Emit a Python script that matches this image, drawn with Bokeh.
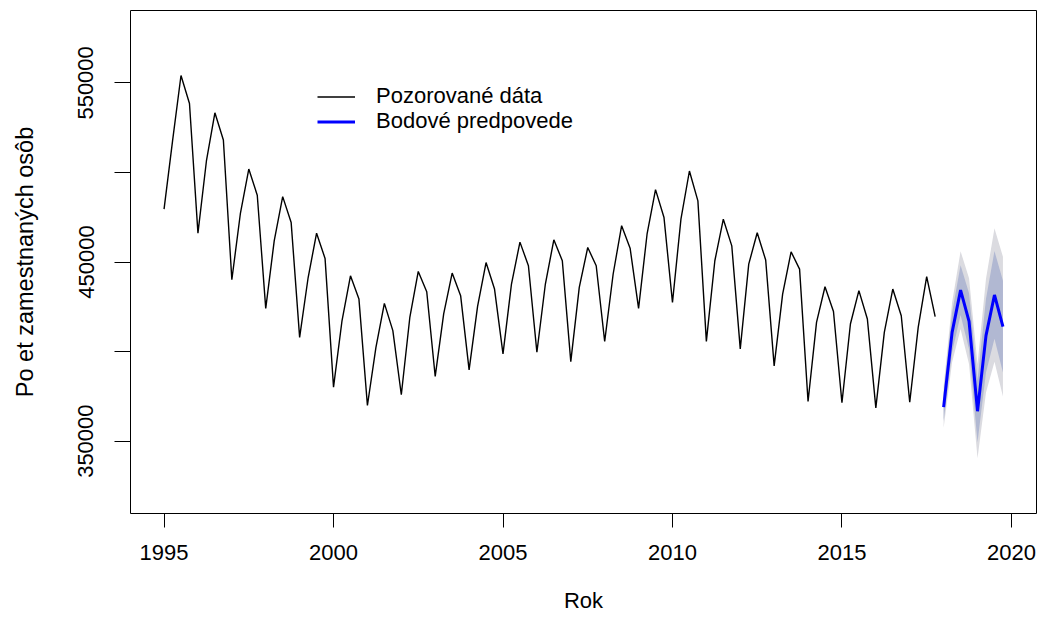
import numpy as np
from bokeh.plotting import figure
from bokeh.models import Range1d, FixedTicker, Legend, LegendItem
from bokeh.embed import file_html
from bokeh.resources import INLINE

# ---- data ----
start_year = 1995.0
observed = [
    479500, 517500, 554100, 538500,
    466100, 506400, 533300, 518100,
    440100, 476800, 501900, 487300,
    424100, 461800, 486500, 472000,
    407900, 441200, 466100, 452000,
    380100, 417200, 442300, 429300,
    369900, 402200, 426900, 411700,
    375900, 418900, 444700, 433400,
    386100, 421000, 443800, 431200,
    389800, 425200, 449700, 434900,
    398700, 437700, 461100, 447900,
    399600, 437700, 462400, 450700,
    394400, 435800, 458100, 447900,
    405600, 443300, 470300, 457700,
    424100, 465500, 490400, 474800,
    427400, 473900, 500800, 484100,
    405700, 450700, 473900, 459000,
    401500, 448800, 466300, 451100,
    392000, 432100, 455700, 446000,
    372100, 416300, 436200, 422400,
    371400, 415400, 434000, 418200,
    368600, 410700, 434900, 420000,
    371700, 413500, 441800, 419500,
]
forecast_start = 2018.0
forecast = [369000, 410700, 434300, 416900, 366700, 408900, 431600, 413900]
hi80 = [376800, 421800, 448200, 432500, 384000, 429500, 456100, 439500]
lo80 = [361200, 399600, 420400, 401300, 349400, 388300, 407100, 388300]
hi95 = [380700, 427400, 456000, 440900, 392900, 440600, 468900, 452900]
lo95 = [357300, 394000, 412600, 392900, 340500, 377200, 394300, 374900]

x_ticks = [1995, 2000, 2005, 2010, 2015, 2020]
y_ticks = [350000, 400000, 450000, 500000, 550000]
y_tick_labels = ["350000", "", "450000", "", "550000"]
legend_labels = ["Pozorované dáta", "Bodové predpovede"]
x_title = "Rok"
y_title = "Po et zamestnaných osôb"

t_obs = start_year + np.arange(len(observed)) / 4.0
t_fc = forecast_start + np.arange(len(forecast)) / 4.0

FONT = "Liberation Sans"
FS = "22px"

p = figure(width=1047, height=624,
           x_range=Range1d(1994.01, 2020.74),
           y_range=Range1d(309600, 590400),
           output_backend="svg", toolbar_location=None,
           min_border_left=130, min_border_right=11,
           min_border_top=10, min_border_bottom=111)
p.background_fill_color = "white"
p.border_fill_color = "white"
p.outline_line_color = "black"
p.outline_line_width = 1
p.xgrid.visible = False
p.ygrid.visible = False

# prediction bands
p.varea(x=t_fc, y1=lo95, y2=hi95, fill_color="#DBDBE0", fill_alpha=1.0)
p.varea(x=t_fc, y1=lo80, y2=hi80, fill_color="#B1B8D2", fill_alpha=1.0)

r_obs = p.line(t_obs, observed, line_color="black", line_width=1.4)
r_fc = p.line(t_fc, forecast, line_color="#0000FF", line_width=3)

# axes
xa = p.xaxis[0]
xa.ticker = FixedTicker(ticks=x_ticks)
xa.minor_tick_line_color = None
xa.major_tick_in = 0
xa.major_tick_out = 14
xa.axis_line_color = None
xa.major_tick_line_color = "black"
xa.major_label_text_font = FONT
xa.major_label_text_font_size = FS
xa.major_label_text_color = "black"
xa.major_label_standoff = 17
xa.axis_label = x_title
xa.axis_label_text_font = FONT
xa.axis_label_text_font_size = FS
xa.axis_label_text_font_style = "normal"
xa.axis_label_text_color = "black"
xa.axis_label_standoff = 25

ya = p.yaxis[0]
ya.ticker = FixedTicker(ticks=y_ticks)
ya.major_label_overrides = {t: s for t, s in zip(y_ticks, y_tick_labels)}
ya.minor_tick_line_color = None
ya.major_tick_in = 0
ya.major_tick_out = 16
ya.axis_line_color = None
ya.major_tick_line_color = "black"
ya.major_label_orientation = "vertical"
ya.major_label_text_font = FONT
ya.major_label_text_font_size = FS
ya.major_label_text_color = "black"
ya.major_label_standoff = 21
ya.axis_label = y_title
ya.axis_label_text_font = FONT
ya.axis_label_text_font_size = "23.5px"
ya.axis_label_text_font_style = "normal"
ya.axis_label_text_color = "black"
ya.axis_label_standoff = 38


def make_legend(label, renderer, loc):
    lg = Legend(items=[LegendItem(label=label, renderers=[renderer])], location=loc)
    lg.background_fill_alpha = 0
    lg.border_line_color = None
    lg.padding = 0
    lg.margin = 0
    lg.spacing = 0
    lg.glyph_width = 38
    lg.glyph_height = 25
    lg.label_height = 25
    lg.label_standoff = 21
    lg.label_text_font = FONT
    lg.label_text_font_size = "22px"
    lg.label_text_color = "black"
    return lg


p.add_layout(make_legend(legend_labels[0], r_obs, (187, 404)))
p.add_layout(make_legend(legend_labels[1], r_fc, (187, 379)))

open("out.html", "w").write(file_html(p, INLINE))
